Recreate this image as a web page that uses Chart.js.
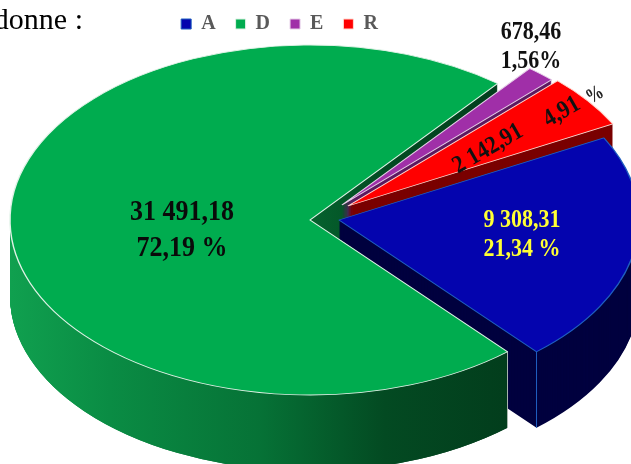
<!DOCTYPE html>
<html>
<head>
<meta charset="utf-8">
<style>
  html, body { margin:0; padding:0; background:#fff; }
  canvas { display:block; }
</style>
</head>
<body>
<canvas id="chart" width="631" height="464"></canvas>
<script src="https://cdn.jsdelivr.net/npm/chart.js@4"></script>
<script>
const categories = ['A', 'D', 'E', 'R'];
const values = [9308.31, 31491.18, 678.46, 2142.91];
const valueLabels = ['9 308,31', '31 491,18', '678,46', '2 142,91'];
const percentLabels = ['21,34 %', '72,19 %', '1,56%', '4,91'];

const topColors = ['#0404ae', '#00ac4f', '#a02fa8', '#ff0000'];
const edgeColors = ['#1f5fc0', '#dff2e6', '#e6cfe8', '#ffd9d0'];
const wallColors = ['#00003f', null, '#5c1a60', '#7a0000'];

// 3D look: the pie is drawn squashed, each slice pulled out by its own shift
const center = { x: 310, y: 220 };
const rx = 300, ry = 175, depth = 76;
const shifts = [[29, 0], [0, 0], [32, -15], [38, -14]];

function greenWall(ctx, el, sx) {
  const toChart = x => (x - center.x) / sx + el.x;
  const g = ctx.createLinearGradient(toChart(10), 0, toChart(510), 0);
  g.addColorStop(0, '#10a04f');
  g.addColorStop(0.2, '#0a8c44');
  g.addColorStop(0.5, '#067236');
  g.addColorStop(0.75, '#034a22');
  g.addColorStop(1, '#023d1c');
  return g;
}

function withOptions(el, extra, draw) {
  const saved = el.options;
  el.options = Object.assign({}, saved, extra);
  draw();
  el.options = saved;
}

const pie3d = {
  id: 'pie3d',
  beforeDatasetsDraw(chart) {
    const ctx = chart.ctx;
    const arcs = chart.getDatasetMeta(0).data;
    const R = arcs[0].outerRadius;
    const sx = rx / R, sy = ry / R;

    const place = (el, i, dy) => {
      ctx.translate(center.x + shifts[i][0], center.y + shifts[i][1] + dy);
      ctx.scale(sx, sy);
      ctx.translate(-el.x, -el.y);
    };

    const wall = i => {
      const el = arcs[i];
      const fill = wallColors[i] || greenWall(ctx, el, sx);
      withOptions(el, { backgroundColor: fill, borderWidth: 0 }, () => {
        for (let d = depth; d >= 1; d--) {
          ctx.save();
          place(el, i, d);
          el.draw(ctx);
          ctx.restore();
        }
      });
    };

    const top = i => {
      ctx.save();
      place(arcs[i], i, 0);
      arcs[i].draw(ctx);
      ctx.restore();
    };

    const cornerOf = (i, angle) => ({
      x: center.x + shifts[i][0] + Math.cos(angle) * rx,
      y: center.y + shifts[i][1] + Math.sin(angle) * ry
    });

    // vertical line on the outer corner of a slice
    const corner = (i, angle, color) => {
      const p = cornerOf(i, angle);
      ctx.save();
      ctx.strokeStyle = color;
      ctx.lineWidth = 1;
      ctx.beginPath();
      ctx.moveTo(p.x, p.y);
      ctx.lineTo(p.x, p.y + depth);
      ctx.stroke();
      ctx.restore();
    };

    wall(1);
    wall(2);
    wall(3);
    wall(0);
    corner(0, arcs[0].endAngle, '#1f5fc0');

    // front part of the green wall sits over the blue one
    const g = cornerOf(1, arcs[1].startAngle);
    ctx.save();
    ctx.beginPath();
    ctx.moveTo(center.x, center.y);
    ctx.lineTo(g.x, g.y);
    ctx.lineTo(g.x, chart.height);
    ctx.lineTo(0, chart.height);
    ctx.lineTo(0, center.y);
    ctx.closePath();
    ctx.clip();
    wall(1);
    ctx.restore();
    corner(1, arcs[1].startAngle, '#a9b8ae');

    top(1);
    top(2);
    top(3);
    top(0);
    return false;
  },
  afterDraw(chart) {
    const ctx = chart.ctx;
    const label = (text, x, y, size, color, angle, squeeze) => {
      ctx.save();
      ctx.translate(x, y);
      ctx.rotate((angle || 0) * Math.PI / 180);
      ctx.scale(squeeze || 0.88, 1);
      ctx.font = 'bold ' + size + 'px "Liberation Serif"';
      ctx.fillStyle = color;
      ctx.textAlign = 'center';
      ctx.textBaseline = 'middle';
      ctx.fillText(text, 0, 0);
      ctx.restore();
    };

    label(valueLabels[1], 182, 212, 29.5, '#0a0a0a');
    label(percentLabels[1], 182, 248, 29.5, '#0a0a0a');
    label(valueLabels[0], 522, 221, 25, '#ffff33');
    label(percentLabels[0], 522, 250, 25, '#ffff33');
    label(valueLabels[2], 531, 33, 25, '#111111');
    label(percentLabels[2], 531, 62, 25, '#111111');
    label(valueLabels[3], 488, 149, 25, '#111111', -30);
    label(percentLabels[3], 562, 112, 25, '#111111', -30);
    label('%', 595, 95, 21, '#222222', -30, 0.8);

    ctx.save();
    ctx.font = '30px "Liberation Serif"';
    ctx.fillStyle = '#000';
    ctx.textAlign = 'right';
    ctx.textBaseline = 'alphabetic';
    ctx.fillText('donne :', 83, 29);
    ctx.restore();
  }
};

new Chart(document.getElementById('chart'), {
  type: 'pie',
  data: {
    labels: categories,
    datasets: [{
      data: values,
      backgroundColor: topColors,
      borderColor: edgeColors,
      borderWidth: 1,
      hoverOffset: 0,
      clip: false
    }]
  },
  options: {
    responsive: false,
    animation: false,
    rotation: 62,
    layout: { padding: { top: -6, right: 72 } },
    plugins: {
      tooltip: { enabled: false },
      legend: {
        position: 'top',
        labels: {
          boxWidth: 10,
          boxHeight: 10,
          padding: 20,
          color: '#595959',
          font: { family: '"Liberation Serif"', size: 20, weight: 'bold' }
        }
      }
    }
  },
  plugins: [pie3d]
});
</script>
</body>
</html>
